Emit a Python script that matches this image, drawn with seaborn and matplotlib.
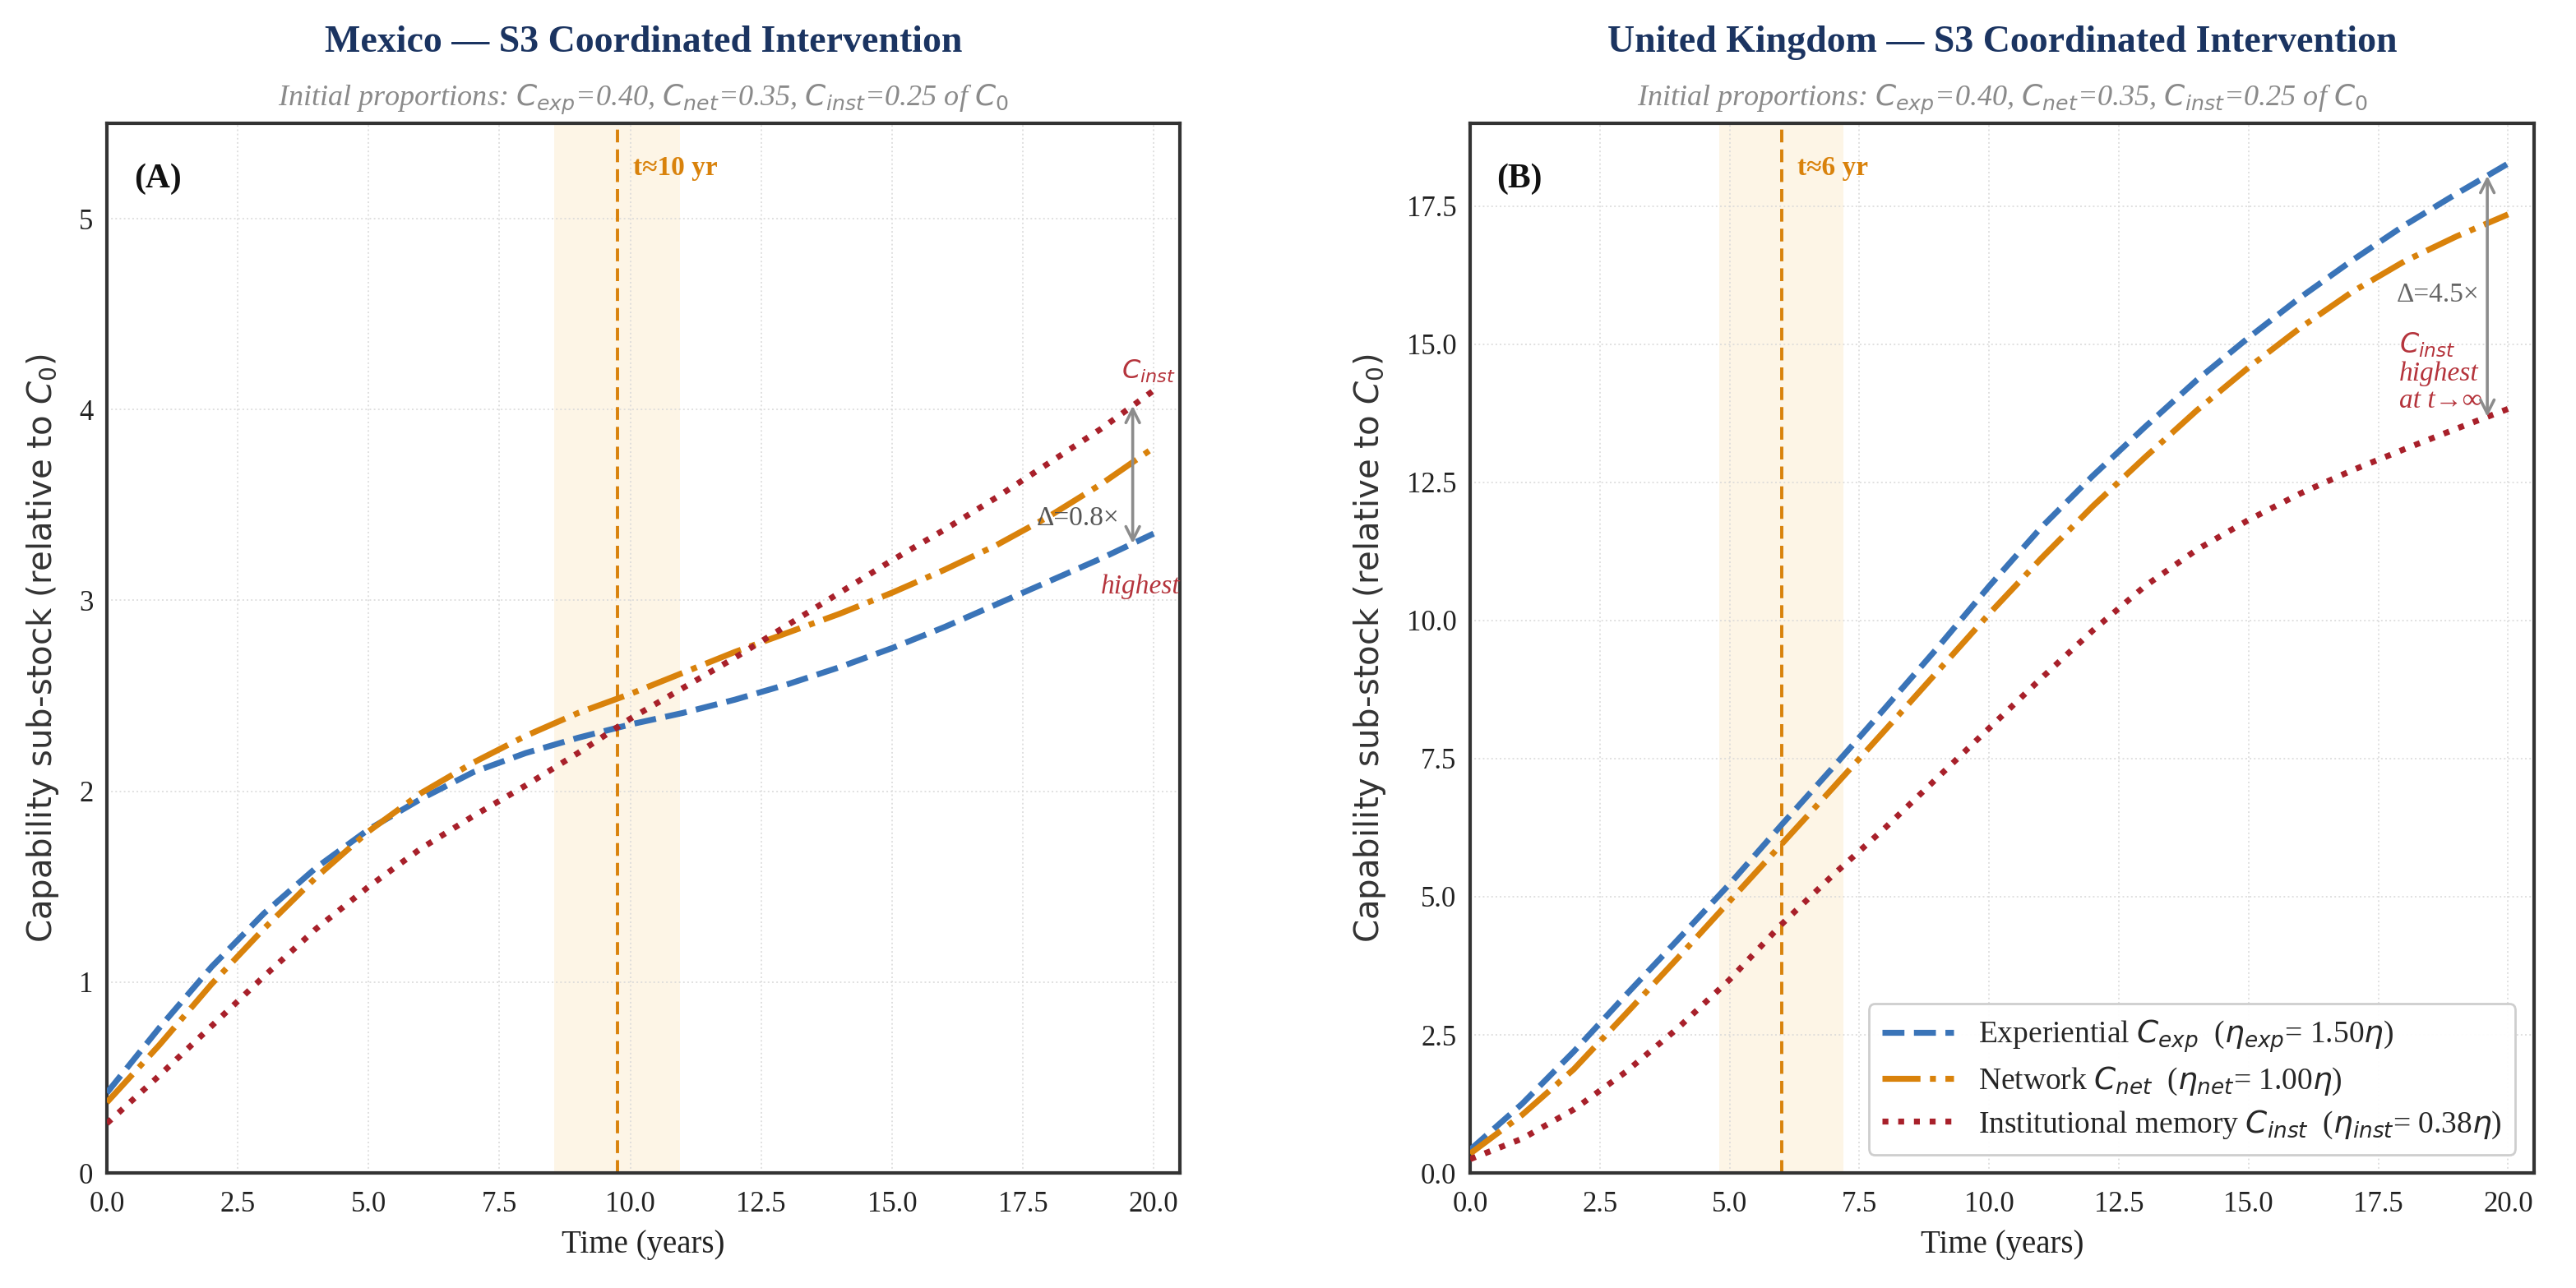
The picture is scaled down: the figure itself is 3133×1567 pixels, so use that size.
import numpy as np
import pandas as pd
import matplotlib
matplotlib.use("Agg")
import matplotlib.pyplot as plt
from matplotlib.ticker import MultipleLocator, FormatStrFormatter
from matplotlib.transforms import blended_transform_factory
import seaborn as sns

# ---------------- data ----------------
years = list(range(0, 21))

mx_exp = [0.42, 0.76, 1.08, 1.36, 1.60, 1.80, 1.96, 2.10, 2.20, 2.28, 2.35,
          2.41, 2.48, 2.56, 2.65, 2.75, 2.86, 2.98, 3.10, 3.22, 3.35]
mx_net = [0.37, 0.67, 0.99, 1.28, 1.55, 1.79, 1.99, 2.15, 2.29, 2.41, 2.51,
          2.62, 2.73, 2.83, 2.93, 3.04, 3.16, 3.29, 3.44, 3.61, 3.80]
mx_inst = [0.26, 0.51, 0.77, 1.03, 1.28, 1.50, 1.70, 1.87, 2.03, 2.20, 2.38,
           2.54, 2.70, 2.87, 3.04, 3.21, 3.37, 3.54, 3.72, 3.90, 4.10]

uk_exp = [0.42, 1.25, 2.20, 3.22, 4.22, 5.23, 6.30, 7.35, 8.42, 9.50, 10.62,
          11.68, 12.62, 13.50, 14.35, 15.12, 15.85, 16.52, 17.15, 17.72, 18.27]
uk_net = [0.35, 1.05, 1.88, 2.88, 3.89, 4.92, 5.95, 6.98, 8.02, 9.07, 10.12,
          11.12, 12.07, 12.95, 13.80, 14.58, 15.30, 15.95, 16.50, 16.95, 17.35]
uk_inst = [0.25, 0.62, 1.15, 1.83, 2.62, 3.50, 4.50, 5.40, 6.25, 7.15, 8.05,
           8.95, 9.82, 10.62, 11.28, 11.82, 12.30, 12.72, 13.10, 13.47, 13.83]

series_labels = [r"Experiential $C_{exp}$  ($\eta_{exp}$= 1.50$\eta$)",
                 r"Network $C_{net}$  ($\eta_{net}$= 1.00$\eta$)",
                 r"Institutional memory $C_{inst}$  ($\eta_{inst}$= 0.38$\eta$)"]

titles = ["Mexico — S3 Coordinated Intervention",
          "United Kingdom — S3 Coordinated Intervention"]
subtitle = r"Initial proportions: $C_{exp}$=0.40, $C_{net}$=0.35, $C_{inst}$=0.25 of $C_0$"
panel_tags = ["(A)", "(B)"]
t_star = [9.75, 6.0]
t_star_labels = ["t≈10 yr", "t≈6 yr"]
delta_labels = ["Δ=0.8×", "Δ=4.5×"]

# ---------------- style ----------------
sns.set_style("white")
plt.rcParams["font.family"] = ["Liberation Serif", "DejaVu Serif"]
plt.rcParams["mathtext.fontset"] = "dejavusans"

C_EXP = "#3a74b8"
C_NET = "#d9820b"
C_INST = "#a8202a"
NAVY = "#1b3461"
ANNOT_RED = "#b5343c"

fig = plt.figure(figsize=(3133 / 200, 1567 / 200), dpi=200)
ax1 = fig.add_axes([0.0415, 0.0893, 0.4165, 0.8150])
ax2 = fig.add_axes([0.5707, 0.0893, 0.4130, 0.8150])

panels = [
    dict(ax=ax1, exp=mx_exp, net=mx_net, inst=mx_inst, ylim=(0, 5.5), ystep=1.0, yfmt="%d"),
    dict(ax=ax2, exp=uk_exp, net=uk_net, inst=uk_inst, ylim=(0, 19.0), ystep=2.5, yfmt="%.1f"),
]

for i, p in enumerate(panels):
    ax = p["ax"]
    df = pd.DataFrame({"t": years, "exp": p["exp"], "net": p["net"], "inst": p["inst"]})

    # band + t* line
    ax.axvspan(t_star[i] - 1.2, t_star[i] + 1.2, color="#f5a623", alpha=0.11, lw=0, zorder=0)
    ax.axvline(t_star[i], color=C_NET, ls=(0, (4, 2.2)), lw=1.4, zorder=1)

    sns.lineplot(data=df, x="t", y="exp", ax=ax, color=C_EXP, lw=2.6, ls="--",
                 label=series_labels[0], zorder=3)
    sns.lineplot(data=df, x="t", y="net", ax=ax, color=C_NET, lw=2.6, ls="-.",
                 label=series_labels[1], zorder=3)
    sns.lineplot(data=df, x="t", y="inst", ax=ax, color=C_INST, lw=2.6, ls=":",
                 label=series_labels[2], zorder=3)

    ax.set_xlim(0, 20.5)
    ax.set_ylim(*p["ylim"])
    ax.xaxis.set_major_locator(MultipleLocator(2.5))
    ax.xaxis.set_minor_locator(MultipleLocator(1.0))
    ax.xaxis.set_major_formatter(FormatStrFormatter("%.1f"))
    ax.yaxis.set_major_locator(MultipleLocator(p["ystep"]))
    ax.yaxis.set_major_formatter(FormatStrFormatter(p["yfmt"]))
    ax.tick_params(which="major", direction="in", length=6, width=1.0,
                   labelsize=12.5, colors="#222222", top=False, right=False)
    ax.tick_params(axis="x", which="major", pad=8)
    ax.tick_params(axis="y", which="major", pad=6)
    ax.tick_params(axis="x", which="minor", direction="out", length=3, width=0.9,
                   colors="#333333", top=False)
    ax.tick_params(axis="y", which="minor", left=False, right=False)
    ax.grid(True, which="major", ls=":", lw=0.7, color="#d8d8d8", alpha=0.8)
    for s in ax.spines.values():
        s.set_color("#333333")
        s.set_linewidth(1.5)

    ax.set_xlabel("Time (years)", fontsize=14, color="#222222", labelpad=5)
    ax.set_ylabel(r"Capability sub-stock (relative to $C_0$)", fontsize=14.5,
                  family="DejaVu Sans", color="#333333", labelpad=8)

    ax.text(0.5, 1.077, titles[i], transform=ax.transAxes, ha="center", va="center",
            fontsize=16.5, fontweight="bold", color=NAVY)
    ax.text(0.5, 1.022, subtitle, transform=ax.transAxes, ha="center", va="center",
            fontsize=13, style="italic", color="#8a8a8a")
    ax.text(0.025, 0.947, panel_tags[i], transform=ax.transAxes, ha="left", va="center",
            fontsize=15, fontweight="bold", color="#111111")
    trans = blended_transform_factory(ax.transData, ax.transAxes)
    ax.text(t_star[i] + 0.3, 0.957, t_star_labels[i], transform=trans, ha="left",
            va="center", fontsize=12, fontweight="bold", color=C_NET)

    # gap arrow between highest/lowest curve near the end
    xa = 19.6
    y_lo = np.interp(xa, years, p["exp"] if i == 0 else p["inst"])
    y_hi = np.interp(xa, years, p["inst"] if i == 0 else p["exp"])
    ax.annotate("", xy=(xa, y_hi), xytext=(xa, y_lo),
                arrowprops=dict(arrowstyle="<->", color="#8c8c8c", lw=1.3,
                                shrinkA=0, shrinkB=0, mutation_scale=15), zorder=4)

    if i == 0:
        ax.text(xa - 0.25, 3.43, delta_labels[i], ha="right", va="center",
                fontsize=12, color="#555555")
        ax.text(19.9, 4.2, r"$C_{inst}$", ha="center", va="center", fontsize=11.5,
                color=ANNOT_RED)
        ax.text(19.75, 3.07, "highest", ha="center", va="center", fontsize=12,
                style="italic", color=ANNOT_RED)
        ax.get_legend().remove()
    else:
        ax.text(xa - 0.15, 15.9, delta_labels[i], ha="right", va="center",
                fontsize=12, color="#666666")
        ax.text(17.9, 14.5, "$C_{inst}$\nhighest\nat t→∞", ha="left", va="center",
                fontsize=12, style="italic", color=ANNOT_RED, linespacing=1.1)
        leg = ax.legend(loc="lower right", fontsize=13.5, frameon=True, fancybox=True,
                        framealpha=0.95, edgecolor="#cccccc", handlelength=2.3,
                        borderaxespad=0.6, borderpad=0.45, labelspacing=0.35)
        leg.get_frame().set_linewidth(1.0)

fig.savefig("out.png", dpi=200)
